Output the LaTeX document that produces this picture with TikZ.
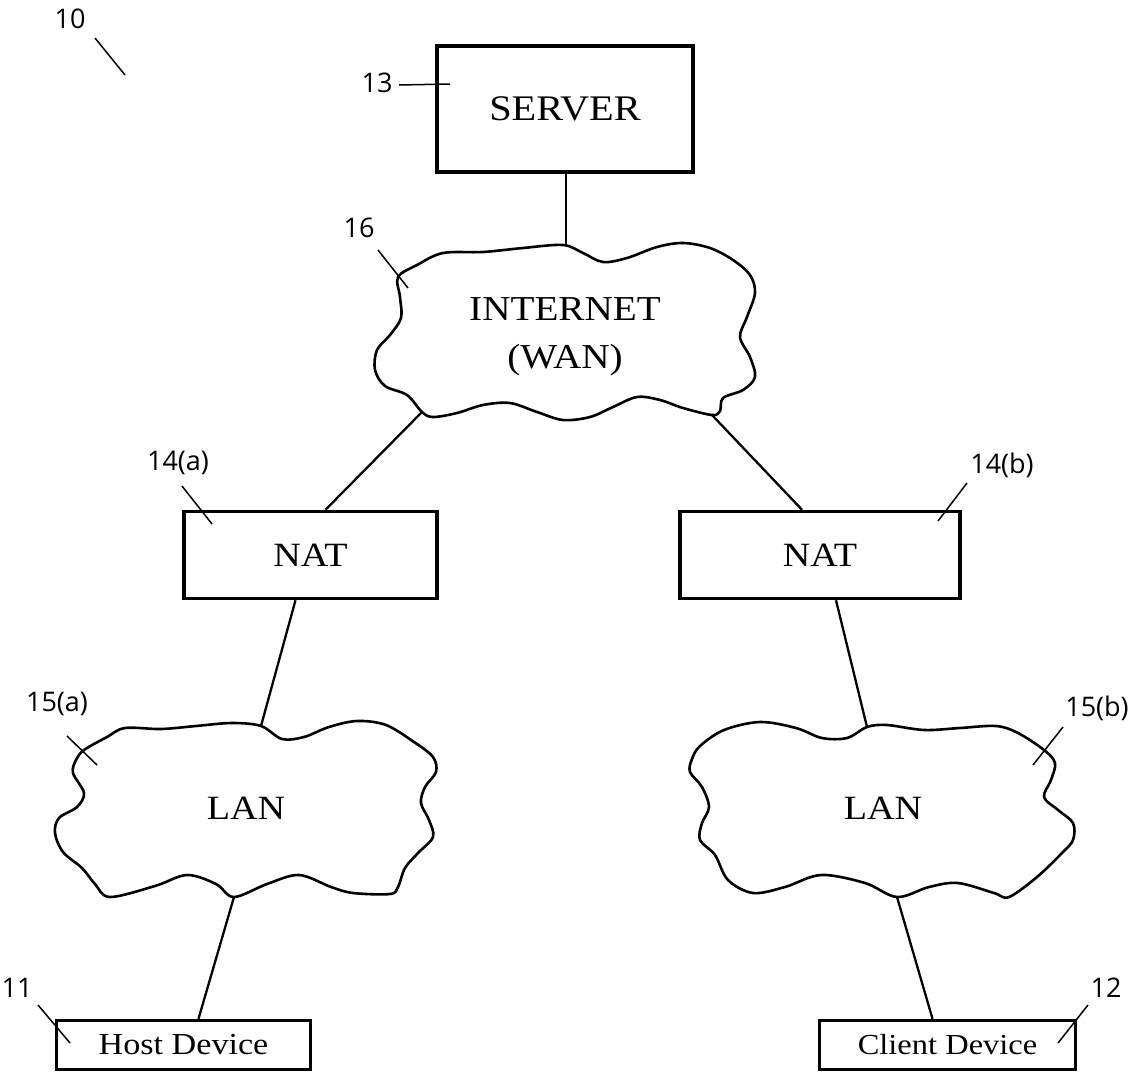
\documentclass[tikz,border=0pt]{standalone}
\usepackage{fontspec}
\setmainfont{Liberation Serif}
\newfontfamily\boxfont[FakeStretch=1.12]{Liberation Serif}
\newfontfamily\labelfont{Open Sans}
\usetikzlibrary{calc}
\begin{document}
\begin{tikzpicture}[x=1pt,y=-1pt,
  box/.style={draw, line width=3.5pt, inner sep=0pt, text height=22pt, text depth=0pt,
    font=\boxfont\fontsize{34}{40}\selectfont},
  smallbox/.style={box, text height=19pt, font=\boxfont\fontsize{29}{34}\selectfont},
  cloudline/.style={draw, line width=2.6pt, line join=round},
  ctext/.style={inner sep=0pt, text height=22pt, text depth=0pt, font=\boxfont\fontsize{34}{40}\selectfont},
  conn/.style={line width=2.3pt},
  lead/.style={line width=1.5pt},
  lbl/.style={font=\labelfont\fontsize{27}{30}\selectfont, inner sep=0pt}]
\useasboundingbox (0,0) rectangle (1130,1074);

% ---------- boxes ----------
\node[box, minimum width=256pt, minimum height=126pt, font=\boxfont\fontsize{36}{40}\selectfont] (server) at (565,109) {SERVER};
\node[box, minimum width=253pt, minimum height=87pt] (nata) at (310.5,555) {NAT};
\node[box, minimum width=280pt, minimum height=87pt] (natb) at (820,555) {NAT};
\node[smallbox, minimum width=254pt, minimum height=49pt, font=\boxfont\fontsize{30.5}{34}\selectfont] (host) at (183.5,1045) {Host Device};
\node[smallbox, minimum width=256pt, minimum height=49pt] (client) at (947.5,1045) {Client Device};

% ---------- clouds ----------
\draw[cloudline] plot[smooth cycle, tension=0.55] coordinates {
 (398,277) (417,265) (443,253) (483,252) (523,248) (563,245) (583,253) (603,262)
 (627,258) (657,247) (683,243) (710,248) (733,260) (750,275) (755,293) (747,317)
 (740,337) (750,357) (755,377) (743,390) (723,398) (720,411) (712,415) (683,408)
 (660,400) (637,397) (613,407) (590,417) (563,420) (537,412) (510,403) (483,405)
 (457,413) (433,417) (422,412) (407,395) (385,386) (375,370) (377,350) (390,335)
 (401,318) (400,297)};
\node[inner sep=0pt, align=center, font=\boxfont\fontsize{35}{48}\selectfont] (inet) at (565,337) {INTERNET\\(WAN)};

\draw[cloudline] plot[smooth cycle, tension=0.55] coordinates {
 (84,750) (107,737) (125,728) (161,729) (196,726) (232,723) (261,726) (282,739)
 (304,737) (329,727) (357,721) (386,725) (414,742) (433,757) (436,772) (425,787)
 (421,803) (429,820) (433,837) (418,853) (405,868) (398,887) (390,894) (353,893)
 (331,887) (299,875) (267,884) (234,897) (216,884) (187,875) (155,886) (110,897)
 (95,884) (82,868) (63,852) (55,833) (59,818) (77,807) (84,793) (73,773) (76,760)};
\node[ctext] (lana) at (246,808) {LAN};

\draw[cloudline] plot[smooth cycle, tension=0.55] coordinates {
 (692,759) (700,746) (724,730) (760,722) (796,728) (822,738) (847,738) (867,727)
 (887,725) (924,730) (960,728) (996,726) (1018,733) (1044,750) (1055,763) (1051,780)
 (1044,797) (1058,810) (1073,823) (1073,840) (1062,853) (1037,877) (1009,897)
 (994,893) (958,883) (929,887) (897,897) (865,883) (821,875) (785,887) (753,893)
 (728,880) (715,855) (700,840) (702,823) (709,807) (702,787) (690,772)};
\node[ctext] (lanb) at (883,808) {LAN};

% ---------- attachment points on clouds ----------
\coordinate (inetT) at (566,245);
\coordinate (inetBL) at (422,412);
\coordinate (inetBR) at (712,415);
\coordinate (lanaT) at (261,726);
\coordinate (lanaB) at (234,897);
\coordinate (lanbT) at (867,727);
\coordinate (lanbB) at (897,897);

% ---------- connectors ----------
\draw[conn] ($(server.south)+(1,0)$) -- (inetT);
\draw[conn] (inetBL) -- ($(nata.north)+(15,0)$);
\draw[conn] (inetBR) -- ($(natb.north)+(-18,0)$);
\draw[conn] ($(nata.south)+(-15,0)$) -- (lanaT);
\draw[conn] ($(natb.south)+(16,0)$) -- (lanbT);
\draw[conn] (lanaB) -- ($(host.north)+(15,0)$);
\draw[conn] (lanbB) -- ($(client.north)+(-15,0)$);

% ---------- reference labels ----------
\node[lbl] (l10) at (70,19) {10};
\coordinate (l10e) at (125,75);
\draw[lead] (95,38) -- (l10e);

\node[lbl] (l13) at (377,83) {13};
\coordinate (l13e) at (450,84);
\draw[lead] (399,85) -- (l13e);

\node[lbl] (l16) at (359,228) {16};
\coordinate (l16e) at (408,288);
\draw[lead] (378,250) -- (l16e);

\node[lbl] (l14a) at (178,463) {14(a)};
\coordinate (l14ae) at (212,524);
\draw[lead] (182,486) -- (l14ae);

\node[lbl] (l14b) at (1002,465) {14(b)};
\coordinate (l14be) at (938,521);
\draw[lead] (967,483) -- (l14be);

\node[lbl] (l15a) at (57,704) {15(a)};
\coordinate (l15ae) at (97,765);
\draw[lead] (67,736) -- (l15ae);

\node[lbl] (l15b) at (1097,708) {15(b)};
\coordinate (l15be) at (1033,765);
\draw[lead] (1063,727) -- (l15be);

\node[lbl] (l11) at (17,988) {11};
\coordinate (l11e) at (70,1043);
\draw[lead] (38,1005) -- (l11e);

\node[lbl] (l12) at (1106,988) {12};
\coordinate (l12e) at (1058,1043);
\draw[lead] (1088,1005) -- (l12e);
\end{tikzpicture}
\end{document}
